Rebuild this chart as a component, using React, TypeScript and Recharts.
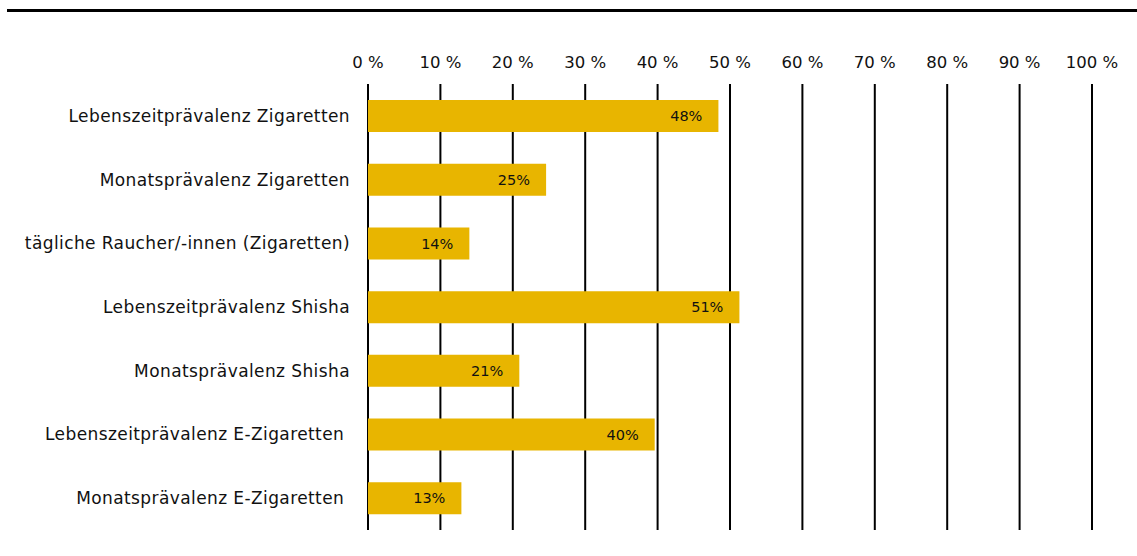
import React from 'react';
import { BarChart, Bar, XAxis, YAxis, CartesianGrid, LabelList } from 'recharts';

const categories = [
  'Lebenszeitprävalenz Zigaretten',
  'Monatsprävalenz Zigaretten',
  'tägliche Raucher/-innen (Zigaretten)',
  'Lebenszeitprävalenz Shisha',
  'Monatsprävalenz Shisha',
  'Lebenszeitprävalenz E-Zigaretten ',
  'Monatsprävalenz E-Zigaretten ',
];
const values = [48.4, 24.6, 14.0, 51.3, 20.9, 39.6, 12.9];
const valueLabels = ['48%', '25%', '14%', '51%', '21%', '40%', '13%'];
const xTicks = [0, 10, 20, 30, 40, 50, 60, 70, 80, 90, 100];

const data = categories.map((c, i) => ({ name: c, value: values[i], label: valueLabels[i] }));

const FONT = '"DejaVu Sans", Verdana, sans-serif';

const CategoryTick = (props: any) => {
  const { x, y, payload } = props;
  return (
    <text
      x={x}
      y={y}
      dy="0.355em"
      textAnchor="end"
      fill="#111"
      fontSize={17}
      fontFamily={FONT}
      letterSpacing={0.4}
      xmlSpace="preserve"
      style={{ whiteSpace: 'pre' }}
    >
      {payload.value}
    </text>
  );
};

export default function App() {
  return (
    <div style={{ position: 'absolute', left: 0, top: 0, width: 1137, height: 556, background: '#fff' }}>
      <div style={{ position: 'absolute', left: 7, top: 9, width: 1130, height: 3, background: '#000' }} />
      <BarChart
        width={1137}
        height={556}
        data={data}
        layout="vertical"
        margin={{ top: 0, right: 45, bottom: 26, left: 0 }}
        barCategoryGap="25%"
        barSize={32}
      >
        <CartesianGrid horizontal={false} vertical stroke="#000" strokeWidth={2} strokeOpacity={1} />
        <XAxis
          type="number"
          orientation="top"
          domain={[0, 100]}
          ticks={xTicks}
          height={84}
          axisLine={false}
          tickLine={false}
          tickSize={0}
          tickMargin={16}
          interval={0}
          tickFormatter={(v: number) => `${v} %`}
          tick={{ fill: '#111', fontSize: 16.5, fontFamily: FONT }}
        />
        <YAxis
          type="category"
          dataKey="name"
          width={368}
          axisLine={false}
          tickLine={false}
          tickSize={0}
          tickMargin={18}
          interval={0}
          tick={<CategoryTick />}
        />
        <Bar dataKey="value" fill="#E8B500" isAnimationActive={false}>
          <LabelList
            dataKey="label"
            position="insideRight"
            offset={16}
            style={{ fill: '#111', fontSize: 14.5, fontFamily: FONT }}
          />
        </Bar>
      </BarChart>
    </div>
  );
}
